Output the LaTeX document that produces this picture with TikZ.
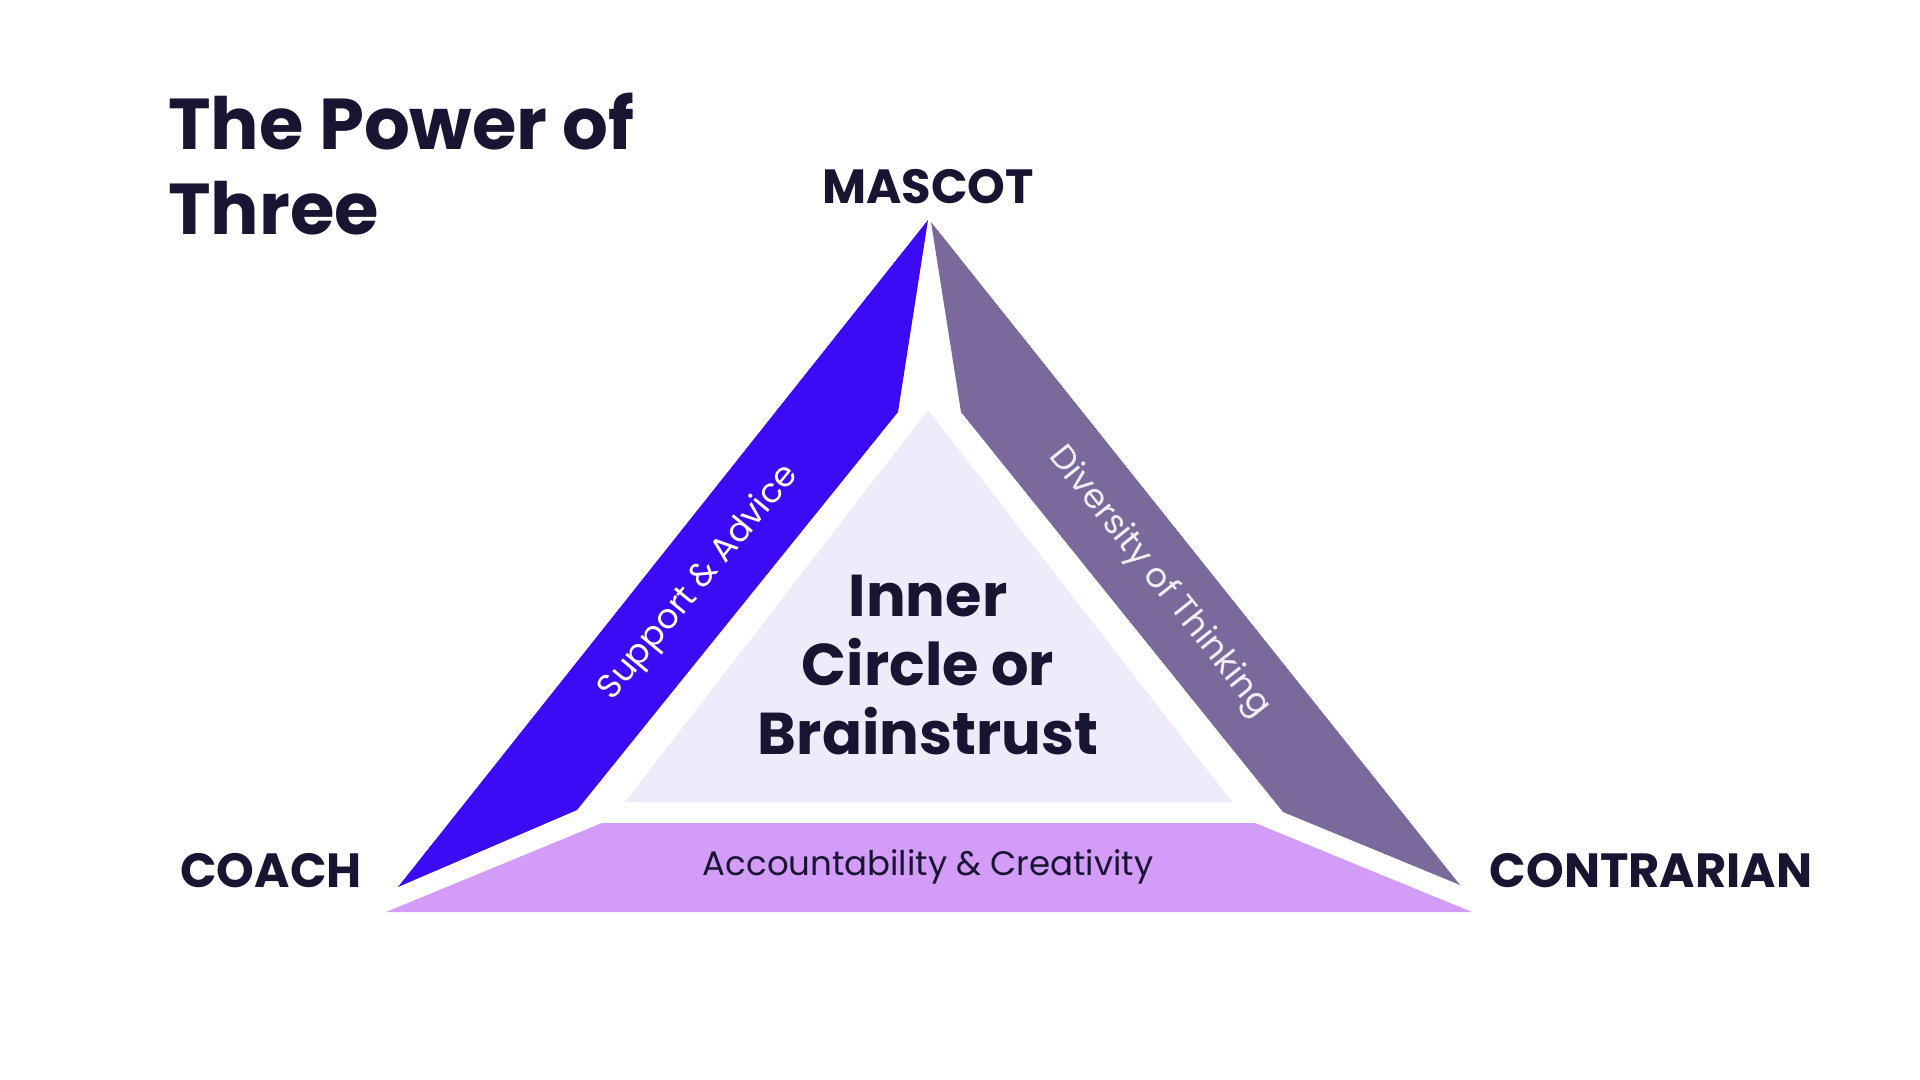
\documentclass[tikz,border=0pt]{standalone}
\usepackage{fontspec}
\setmainfont{Poppins}
\definecolor{blueband}{HTML}{3D0AF5}
\definecolor{grayband}{HTML}{7A6A9B}
\definecolor{lilac}{HTML}{D29CF8}
\definecolor{innerfill}{HTML}{EFEBFA}
\definecolor{darktext}{HTML}{1A1433}
\definecolor{bandtext}{HTML}{F2EEFA}
\tikzset{
  corner/.style={font=\fontsize{24}{28}\selectfont\bfseries, text=darktext, inner sep=0pt},
  bandlabel/.style={font=\fontsize{17}{20}\selectfont, inner sep=0pt},
  titletext/.style={font=\fontsize{36}{42}\selectfont\bfseries, text=darktext, inner sep=0pt, anchor=base west},
}
\begin{document}
\begin{tikzpicture}[x=0.5pt,y=-0.5pt]
\useasboundingbox[fill=white] (0,0) rectangle (1920,1080);
% bands
\fill[blueband] (928,220) -- (898,412) -- (577,810) -- (398,887) -- cycle;
\fill[grayband] (931,222) -- (1460,885) -- (1283,812) -- (961,412) -- cycle;
\fill[lilac] (386,912) -- (602,823) -- (1255,823) -- (1472,912) -- cycle;
\fill[innerfill] (928,410) -- (1232,802) -- (625,802) -- cycle;
% title
\node[titletext] (t1) at (168,150) {The Power of};
\node[titletext] (t2) at (168,235) {Three};
% corners
\node[corner] (mascot) at (928,187) {MASCOT};
\node[corner] (coach) at (271,871) {COACH};
\node[corner] (contrarian) at (1651,871) {CONTRARIAN};
% band labels
\node[bandlabel, text=white, rotate=50.5] (support) at (699,583) {Support \& Advice};
\node[bandlabel, text=bandtext, rotate=-51.4] (diversity) at (1159,582) {Diversity of Thinking};
\node[bandlabel, text=darktext] (account) at (928,867) {Accountability \& Creativity};
% centre
\node[font=\fontsize{29.5}{34.5}\selectfont\bfseries, text=darktext, align=center, inner sep=0pt] (inner) at (928,665) {Inner\\Circle or\\Brainstrust};
\end{tikzpicture}
\end{document}
